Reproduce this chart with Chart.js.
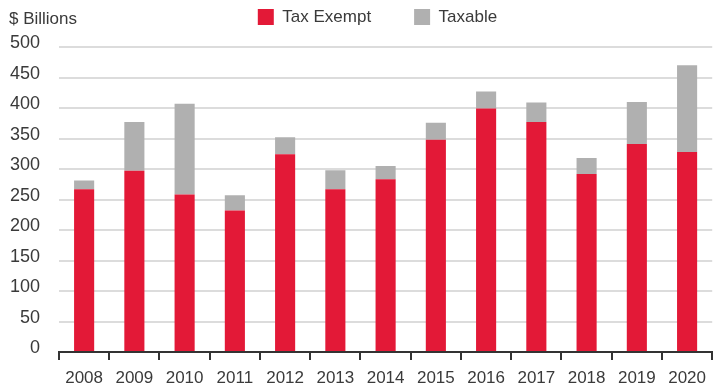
<!DOCTYPE html>
<html>
<head>
<meta charset="utf-8">
<script src="https://cdn.jsdelivr.net/npm/chart.js@4.4.1/dist/chart.umd.min.js"></script>
<style>
  html, body { margin: 0; padding: 0; background: #fff; }
  canvas { display: block; }
</style>
</head>
<body>
<canvas id="grafico" width="714" height="392"></canvas>
<script>
// Emisiones anuales, en miles de millones de dólares
const years = ['2008', '2009', '2010', '2011', '2012', '2013', '2014',
               '2015', '2016', '2017', '2018', '2019', '2020'];
const taxExempt = [267, 297, 258, 232, 324, 267, 283, 348, 399, 377, 292, 341, 328];
const taxable   = [14, 80, 149, 25, 28, 31, 22, 28, 28, 32, 26, 69, 142];
const yTicks    = [0, 50, 100, 150, 200, 250, 300, 350, 400, 450, 500];
const unitLabel = '$ Billions';

const FONT = '"Liberation Sans", Arial, sans-serif';
const FONT_SIZE = 17;
const TEXT_COLOR = '#3a3a3a';
const RED = '#e31937';
const GRAY = '#b0b0b0';

// Texto de unidades arriba a la izquierda y ajuste fino de la leyenda
const encabezado = {
  id: 'encabezado',
  afterLayout(chart) {
    const lg = chart.legend;
    lg.top -= 11.5; lg.bottom -= 11.5;
    lg.left += 20; lg.right += 20;
  },
  afterDraw(chart) {
    const ctx = chart.ctx;
    ctx.save();
    ctx.font = `${FONT_SIZE}px ${FONT}`;
    ctx.fillStyle = TEXT_COLOR;
    ctx.textAlign = 'left';
    ctx.textBaseline = 'alphabetic';
    ctx.fillText(unitLabel, 9, 24);
    ctx.restore();
  }
};

Chart.defaults.font.family = FONT;
Chart.defaults.font.size = FONT_SIZE;
Chart.defaults.color = TEXT_COLOR;

new Chart(document.getElementById('grafico'), {
  type: 'bar',
  data: {
    labels: years,
    datasets: [
      { label: 'Tax Exempt', data: taxExempt, backgroundColor: RED, borderWidth: 0 },
      { label: 'Taxable', data: taxable, backgroundColor: GRAY, borderWidth: 0 }
    ]
  },
  options: {
    responsive: false,
    animation: false,
    events: [],
    layout: { padding: { top: -23, right: -1, left: 0, bottom: 0 } },
    datasets: { bar: { categoryPercentage: 1, barPercentage: 0.4 } },
    plugins: {
      tooltip: { enabled: false },
      legend: {
        position: 'top',
        labels: { boxWidth: 16, boxHeight: 16, padding: 43 }
      }
    },
    scales: {
      x: {
        stacked: true,
        grid: { display: true, drawOnChartArea: false, drawTicks: true, tickLength: 8, color: '#333', lineWidth: 2 },
        border: { display: true, color: '#333', width: 2 },
        ticks: { padding: 8, maxRotation: 0, minRotation: 0, autoSkip: false },
        afterFit(scale) { scale.height = 40; }
      },
      y: {
        stacked: true,
        min: 0,
        max: 500,
        afterBuildTicks(axis) { axis.ticks = yTicks.map(v => ({ value: v })); },
        grid: { color: '#dcdcdc', lineWidth: 2, drawTicks: false },
        border: { display: false },
        ticks: { padding: 19, labelOffset: -3.5, font: { size: 18 } },
        afterFit(scale) { scale.width = 59; }
      }
    }
  },
  plugins: [encabezado]
});
</script>
</body>
</html>
